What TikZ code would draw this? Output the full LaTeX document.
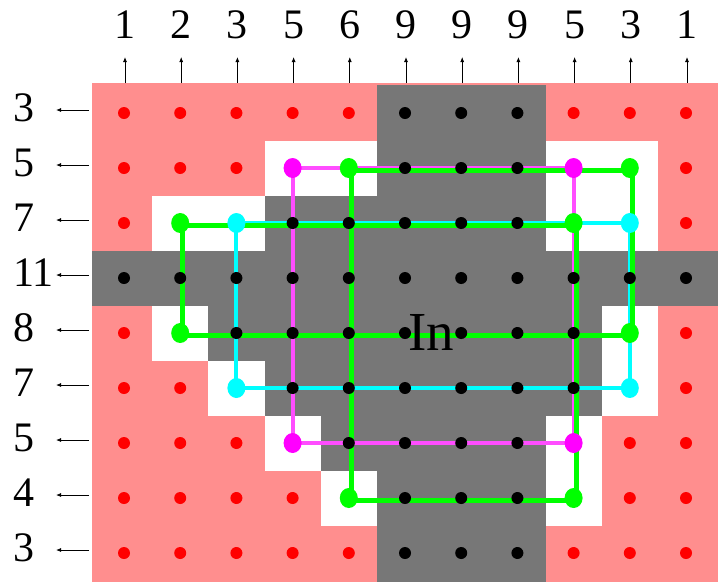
\documentclass[tikz,border=0pt]{standalone}
\usepackage{fontspec}
\setmainfont{Liberation Serif}
\usetikzlibrary{arrows.meta,shapes.geometric}
\definecolor{pinkbg}{HTML}{FF8E8E}
\definecolor{ingray}{HTML}{777777}
\definecolor{magline}{HTML}{FF4DFF}
\definecolor{magdot}{HTML}{FF00FF}
\definecolor{cyanfull}{HTML}{00FFFF}
\definecolor{greenfull}{HTML}{00FF00}
\definecolor{reddot}{HTML}{FF0000}
\def\cellmap{{o,o,o,o,o,i,i,i,o,o,o},{o,o,o,m,g,i,i,i,m,g,o},{o,g,c,i,i,i,i,i,g,c,o},{i,i,i,i,i,i,i,i,i,i,i},{o,g,i,i,i,i,i,i,i,g,o},{o,o,c,i,i,i,i,i,i,c,o},{o,o,o,m,i,i,i,i,m,o,o},{o,o,o,o,g,i,i,i,g,o,o},{o,o,o,o,o,i,i,i,o,o,o}}

\begin{document}
\begin{tikzpicture}[x=1pt,y=-1pt,
cello/.style={fill=none},celli/.style={fill=ingray},cellm/.style={fill=white},cellc/.style={fill=white},cellg/.style={fill=white},
doto/.style={circle,fill=reddot,inner sep=0pt,minimum size=12pt},
doti/.style={circle,fill=black,inner sep=0pt,minimum size=12pt},
dotm/.style={ellipse,fill=magdot,inner sep=0pt,minimum width=18pt,minimum height=20pt},
dotc/.style={ellipse,fill=cyanfull,inner sep=0pt,minimum width=18pt,minimum height=20pt},
dotg/.style={ellipse,fill=greenfull,inner sep=0pt,minimum width=18pt,minimum height=20pt},
lab/.style={inner sep=0pt,font=\fontsize{42}{42}\selectfont},
pointer/.style={line width=0.8pt,-{Latex[length=5pt,width=4pt]}}
]
\useasboundingbox (0,0) rectangle (719,582);
\fill[pinkbg] (92,83) rectangle (718,582);
\fill[ingray] (377,85) rectangle (545.5,582);
\fill[ingray] (92,250.5) rectangle (718,305.5);
\foreach \row [count=\j] in \cellmap
\foreach \t [count=\i] in \row {
\coordinate (c-\i-\j) at ({124+56.2*(\i-1)},{113+55*(\j-1)});
\path[cell\t] ([shift={(-28.1,-27.5)}]c-\i-\j) rectangle ([shift={(28.1,27.5)}]c-\i-\j);
}
\draw[magline,line width=4pt] (c-4-2) -- (c-9-2) -- (c-9-7) -- (c-4-7) -- cycle;
\draw[cyanfull,line width=4pt] (c-3-3) -- (c-10-3) -- (c-10-6) -- (c-3-6) -- cycle;
\draw[greenfull,line width=4.8pt] ([shift={(2.5,2.5)}]c-5-2) -- ([shift={(2.5,2.5)}]c-10-2) -- ([shift={(2.5,2.5)}]c-10-5) -- ([shift={(2.5,2.5)}]c-2-5) -- ([shift={(2.5,2.5)}]c-2-3) -- ([shift={(2.5,2.5)}]c-9-3) -- ([shift={(2.5,2.5)}]c-9-8) -- ([shift={(2.5,2.5)}]c-5-8) -- cycle;
\foreach \row [count=\j] in \cellmap
\foreach \t [count=\i] in \row
\node[dot\t] (d-\i-\j) at (c-\i-\j) {};
\node[font=\fontsize{55}{55}\selectfont,inner sep=0pt,anchor=base] (in) at (431,350) {In};
\foreach \n [count=\i] in {1,2,3,5,6,9,9,9,5,3,1} {
\node[lab,anchor=base] (col-\i) at ({125+56.2*(\i-1)},38) {\n};
\coordinate (cb-\i) at ({125+56.2*(\i-1)},83);
\coordinate (ct-\i) at ({125+56.2*(\i-1)},57);
\draw[pointer] (cb-\i) -- (ct-\i);
}
\foreach \n [count=\j] in {3,5,7,11,8,7,5,4,3} {
\node[lab,anchor=base west] (row-\j) at (13,{121+55*(\j-1)}) {\n};
\coordinate (rb-\j) at (89,{110+55*(\j-1)});
\coordinate (rt-\j) at (56,{110+55*(\j-1)});
\draw[pointer] (rb-\j) -- (rt-\j);
}
\end{tikzpicture}
\end{document}
